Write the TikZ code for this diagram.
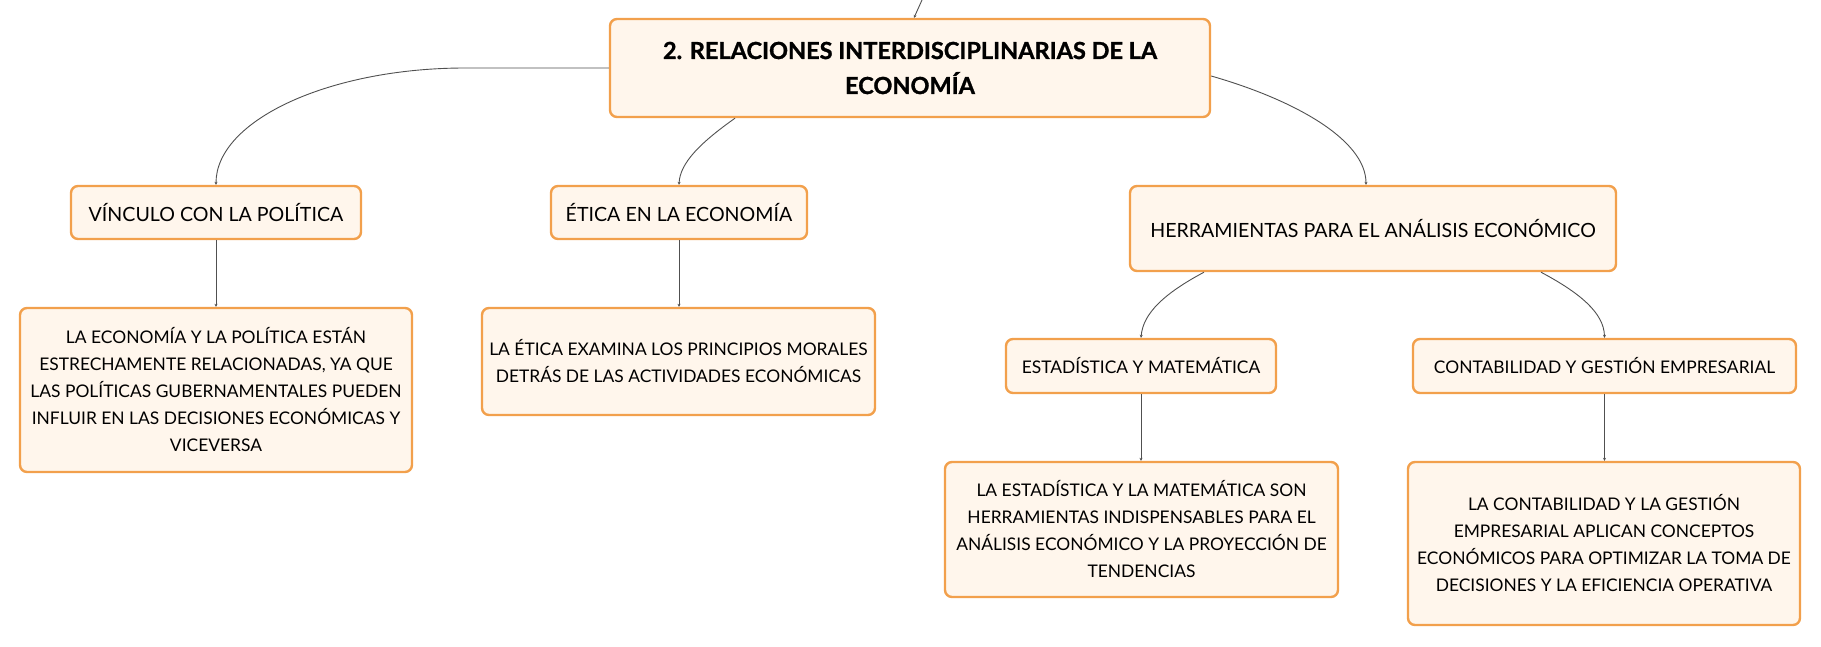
\documentclass[tikz,border=0pt]{standalone}
\usepackage{fontspec}
\setmainfont{Lato}
\usetikzlibrary{arrows.meta}
\definecolor{boxline}{HTML}{F2A04C}
\definecolor{boxfill}{HTML}{FFF6EC}
\definecolor{conn}{HTML}{505050}
\tikzset{
  mapbox/.style={draw=boxline, fill=boxfill, line width=2.4pt, rounded corners=7pt,
    inner sep=0pt, align=center, text=black, font=\fontsize{17.4}{27}\selectfont},
  mainbox/.style={mapbox, font=\fontsize{19.6}{30}\selectfont},
  rootbox/.style={mapbox, font=\bfseries\fontsize{23.5}{35}\selectfont\addfontfeature{FakeBold=1.2}},
  link/.style={draw=conn, line width=0.9pt, -{Stealth[length=3pt,width=3pt]}},
}
\begin{document}
\begin{tikzpicture}[x=1pt,y=-1pt]
\useasboundingbox (0,0) rectangle (1821,646);
% nodes
\node[rootbox, minimum width=600, minimum height=98] (root) at (910,68) {2. RELACIONES INTERDISCIPLINARIAS DE LA\\ECONOMÍA};
\node[mainbox, minimum width=290, minimum height=53] (vinc) at (216,212.5) {VÍNCULO CON LA POLÍTICA};
\node[mainbox, minimum width=256, minimum height=53] (etic) at (679,212.5) {ÉTICA EN LA ECONOMÍA};
\node[mainbox, minimum width=486, minimum height=85] (herr) at (1373,228.5) {HERRAMIENTAS PARA EL ANÁLISIS ECONÓMICO};
\node[mapbox, minimum width=392, minimum height=164] (vincd) at (216,390) {LA ECONOMÍA Y LA POLÍTICA ESTÁN\\ESTRECHAMENTE RELACIONADAS, YA QUE\\LAS POLÍTICAS GUBERNAMENTALES PUEDEN\\INFLUIR EN LAS DECISIONES ECONÓMICAS Y\\VICEVERSA};
\node[mapbox, minimum width=393, minimum height=107] (eticd) at (678.5,361.5) {LA ÉTICA EXAMINA LOS PRINCIPIOS MORALES\\DETRÁS DE LAS ACTIVIDADES ECONÓMICAS};
\node[mapbox, minimum width=270, minimum height=54] (esta) at (1141,366) {ESTADÍSTICA Y MATEMÁTICA};
\node[mapbox, minimum width=383, minimum height=54] (cont) at (1604.5,366) {CONTABILIDAD Y GESTIÓN EMPRESARIAL};
\node[mapbox, minimum width=393, minimum height=135] (estad) at (1141.5,529.5) {LA ESTADÍSTICA Y LA MATEMÁTICA SON\\HERRAMIENTAS INDISPENSABLES PARA EL\\ANÁLISIS ECONÓMICO Y LA PROYECCIÓN DE\\TENDENCIAS};
\node[mapbox, minimum width=392, minimum height=163] (contd) at (1604,543.5) {LA CONTABILIDAD Y LA GESTIÓN\\EMPRESARIAL APLICAN CONCEPTOS\\ECONÓMICOS PARA OPTIMIZAR LA TOMA DE\\DECISIONES Y LA EFICIENCIA OPERATIVA};
% connectors
\coordinate (topin) at (922,0);
\draw[link] (topin) -- (root.north -| 914,0);
\draw[link] (root.west) -- (465,68) .. controls (330,68) and (216,120) .. (vinc.north);
\draw[link] (root.south -| 735,0) .. controls (700,143) and (680,163) .. (etic.north);
\draw[link] (root.east |- 0,76) .. controls (1295,100) and (1366,140) .. (herr.north -| 1366,0);
\draw[link] (herr.south -| 1204,0) .. controls (1165,293) and (1143,313) .. (esta.north);
\draw[link] (herr.south -| 1541,0) .. controls (1580,293) and (1604,313) .. (cont.north);
\draw[link] (vinc.south) -- (vincd.north);
\draw[link] (etic.south) -- (eticd.north -| etic.south);
\draw[link] (esta.south) -- (estad.north -| esta.south);
\draw[link] (cont.south) -- (contd.north -| cont.south);
\end{tikzpicture}
\end{document}
